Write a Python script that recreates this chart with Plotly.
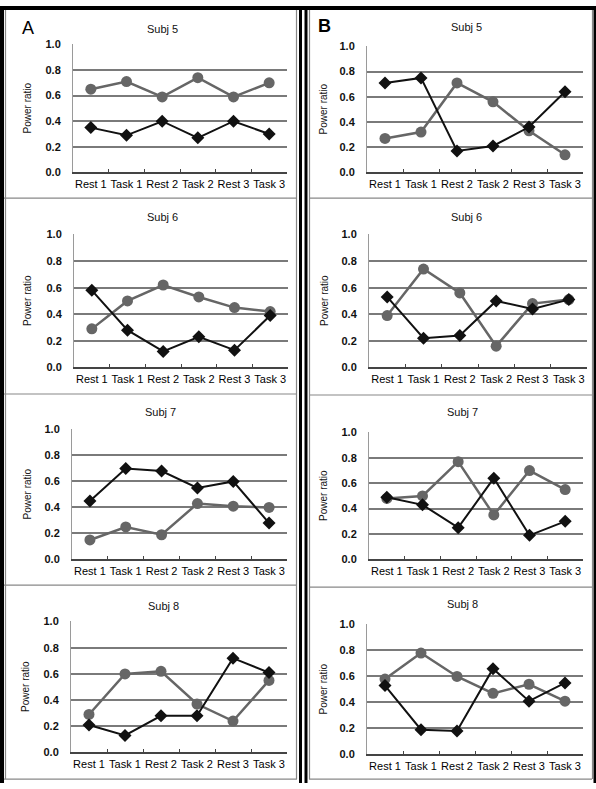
import plotly.graph_objects as go

W, H = 596, 789

categories = ["Rest 1", "Task 1", "Rest 2", "Task 2", "Rest 3", "Task 3"]
y_ticks = [0.0, 0.2, 0.4, 0.6, 0.8, 1.0]
y_tick_labels = ["0.0", "0.2", "0.4", "0.6", "0.8", "1.0"]
titles = ["Subj 5", "Subj 6", "Subj 7", "Subj 8"]

# Panel A (black diamonds / gray circles)
a_subj5_black = [0.35, 0.29, 0.40, 0.27, 0.40, 0.30]
a_subj5_gray = [0.65, 0.71, 0.59, 0.74, 0.59, 0.70]
a_subj6_black = [0.58, 0.28, 0.12, 0.23, 0.13, 0.39]
a_subj6_gray = [0.29, 0.50, 0.62, 0.53, 0.45, 0.42]
a_subj7_black = [0.45, 0.70, 0.68, 0.55, 0.60, 0.28]
a_subj7_gray = [0.15, 0.25, 0.19, 0.43, 0.41, 0.40]
a_subj8_black = [0.21, 0.13, 0.28, 0.28, 0.72, 0.61]
a_subj8_gray = [0.29, 0.60, 0.62, 0.37, 0.24, 0.55]

# Panel B
b_subj5_black = [0.71, 0.75, 0.17, 0.21, 0.36, 0.64]
b_subj5_gray = [0.27, 0.32, 0.71, 0.56, 0.33, 0.14]
b_subj6_black = [0.53, 0.22, 0.24, 0.50, 0.44, 0.51]
b_subj6_gray = [0.39, 0.74, 0.56, 0.16, 0.48, 0.51]
b_subj7_black = [0.49, 0.43, 0.25, 0.64, 0.19, 0.30]
b_subj7_gray = [0.48, 0.50, 0.77, 0.35, 0.70, 0.55]
b_subj8_black = [0.53, 0.19, 0.18, 0.66, 0.41, 0.55]
b_subj8_gray = [0.58, 0.78, 0.60, 0.47, 0.54, 0.41]

a_black = [a_subj5_black, a_subj6_black, a_subj7_black, a_subj8_black]
a_gray = [a_subj5_gray, a_subj6_gray, a_subj7_gray, a_subj8_gray]
b_black = [b_subj5_black, b_subj6_black, b_subj7_black, b_subj8_black]
b_gray = [b_subj5_gray, b_subj6_gray, b_subj7_gray, b_subj8_gray]


def px(x):
    return x / W


def py(y):
    return 1 - y / H


# layout geometry in pixels: (x_left, x_right, y_top(1.0), y_bottom(0.0), title_x, title_y, ytitle_x)
geomA = [
    (73, 287, 39, 169, 162, 23, 27),
    (74, 288, 232, 367, 162, 214, 28),
    (72, 287, 430, 562, 160, 412, 27),
    (71, 287, 625, 758, 163, 609, 26),
]
geomB = [
    (367, 583, 41, 169, 466, 21, 323),
    (369, 587, 232, 367, 466, 214, 325),
    (369, 583, 433, 562, 462, 412, 324),
    (367, 583, 628, 760, 462, 607, 323),
]

FONT = "Liberation Sans, Arial, sans-serif"
GRAY = "#666666"
BLACK = "#111111"

fig = go.Figure()
annotations = []
layout_axes = {}

idx = 0
for col, (geoms, blacks, grays) in enumerate([(geomA, a_black, a_gray), (geomB, b_black, b_gray)]):
    for row in range(4):
        idx += 1
        xl, xr, yt, yb, tx, ty, ytx = geoms[row]
        xa = "x" if idx == 1 else f"x{idx}"
        ya = "y" if idx == 1 else f"y{idx}"
        fig.add_trace(go.Scatter(
            x=categories, y=grays[row], xaxis=xa, yaxis=ya, mode="lines+markers",
            line=dict(color=GRAY, width=2.5),
            marker=dict(symbol="circle", size=11, color=GRAY),
            showlegend=False, cliponaxis=False))
        fig.add_trace(go.Scatter(
            x=categories, y=blacks[row], xaxis=xa, yaxis=ya, mode="lines+markers",
            line=dict(color=BLACK, width=2),
            marker=dict(symbol="diamond", size=10, color=BLACK),
            showlegend=False, cliponaxis=False))
        xkey = "xaxis" if idx == 1 else f"xaxis{idx}"
        ykey = "yaxis" if idx == 1 else f"yaxis{idx}"
        layout_axes[xkey] = dict(
            domain=[px(xl), px(xr)], anchor=ya, type="category",
            categoryorder="array", categoryarray=categories,
            range=[-0.5, 5.5], showgrid=False, zeroline=False,
            showline=True, linecolor="#444444", linewidth=1.5,
            ticks="inside", ticklen=4, tickcolor="#444444", tickwidth=1,
            tickson="boundaries", tickangle=0, ticklabelstandoff=1,
            tickfont=dict(family=FONT, size=11, color="#000000"),
            fixedrange=True)
        layout_axes[ykey] = dict(
            domain=[py(yb), py(yt)], anchor=xa, range=[0, 1.0],
            tickvals=y_ticks, ticktext=y_tick_labels,
            showgrid=True, gridcolor="#7a7a7a", gridwidth=1.5,
            zeroline=False, showline=True, linecolor="#9a9a9a", linewidth=1,
            ticks="", ticklabelstandoff=9,
            tickfont=dict(family=FONT, size=11, color="#111111", weight="bold"),
            fixedrange=True)
        annotations.append(dict(
            x=px(tx), y=py(ty), xref="paper", yref="paper", text=titles[row],
            showarrow=False, xanchor="center", yanchor="middle",
            font=dict(family=FONT, size=11, color="#111111")))
        annotations.append(dict(
            x=px(ytx), y=py((yt + yb) / 2), xref="paper", yref="paper", text="Power ratio",
            showarrow=False, xanchor="center", yanchor="middle", textangle=-90,
            font=dict(family=FONT, size=10, color="#111111")))

annotations.append(dict(x=px(28), y=py(22), xref="paper", yref="paper", text="A",
                        showarrow=False, xanchor="center", yanchor="middle",
                        font=dict(family=FONT, size=18, color="#000000")))
annotations.append(dict(x=px(324), y=py(20), xref="paper", yref="paper", text="<b>B</b>",
                        showarrow=False, xanchor="center", yanchor="middle",
                        font=dict(family=FONT, size=18, color="#000000")))

shapes = []


def line(x0, y0, x1, y1, color, width):
    shapes.append(dict(type="line", xref="paper", yref="paper",
                       x0=px(x0), y0=py(y0), x1=px(x1), y1=py(y1),
                       line=dict(color=color, width=width), layer="above"))


# thin gray panel separators / inner boxes
for y in (195, 394, 588):
    line(4, y, 297, y, "#888888", 1.2)
for y in (195, 395, 590):
    line(309, y, 592, y, "#888888", 1.2)
line(4, 785, 297, 785, "#888888", 1.2)
line(309, 785, 592, 785, "#888888", 1.2)
line(5.5, 4, 5.5, 785, "#888888", 1.2)
line(296.5, 4, 296.5, 785, "#888888", 1.2)
line(309.5, 4, 309.5, 785, "#888888", 1.2)
line(592.5, 4, 592.5, 785, "#888888", 1.2)
# thick black frame
line(0, 2, 596, 2, "#000000", 4)
line(2, 0, 2, 789, "#000000", 4)
line(595, 0, 595, 789, "#000000", 3)
line(300.5, 0, 300.5, 789, "#000000", 3)
line(306, 0, 306, 789, "#000000", 3)

fig.update_layout(
    width=W, height=H, autosize=False,
    margin=dict(l=0, r=0, t=0, b=0, pad=0),
    paper_bgcolor="white", plot_bgcolor="white",
    showlegend=False, annotations=annotations, shapes=shapes,
    font=dict(family=FONT, color="#111111"),
    **layout_axes)

fig.write_html(
    "out.html",
    config={"displayModeBar": False},
    post_script="document.body.style.margin='0px';document.body.style.overflow='hidden';",
)
